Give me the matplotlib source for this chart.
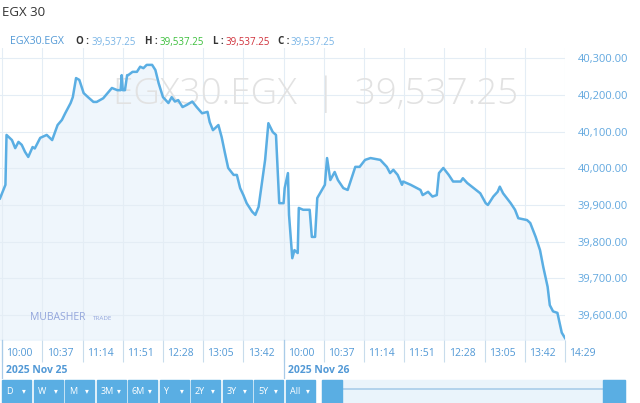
import matplotlib
matplotlib.use('Agg')
import matplotlib.pyplot as plt
from matplotlib.patches import Rectangle

plt.rcParams['font.family'] = ['Open Sans', 'DejaVu Sans']

# ordinal trading minutes: Nov 25 session starts at 0, Nov 26 session at 259
minutes = [-2, 3, 4, 9, 12, 15, 18, 21, 24, 28, 30, 35, 41, 46, 51, 55, 58, 63, 65, 68,
           71, 75, 79, 84, 87, 90, 93, 97, 101, 106, 109, 110, 111, 113, 115, 116, 120, 124, 127, 130,
           133, 138, 141, 144, 148, 153, 156, 159, 162, 166, 170, 175, 179, 184, 189, 191, 194, 199, 202, 205,
           208, 213, 216, 219, 222, 225, 230, 233, 236, 239, 242, 245, 249, 252, 255, 259, 260, 263, 264, 267,
           269, 272, 273, 277, 283, 285, 288, 290, 297, 299, 302, 306, 309, 314, 318, 320, 325, 329, 334, 339,
           348, 354, 357, 360, 364, 368, 369, 376, 385, 387, 392, 396, 400, 402, 406, 411, 415, 422, 424, 428,
           434, 440, 445, 447, 452, 456, 458, 461, 468, 472, 475, 483, 486, 491, 495, 498, 502, 504, 507, 511,
           513, 515, 518]
close = [39918, 39955, 40091, 40077, 40055, 40072, 40064, 40045, 40031, 40058, 40054, 40083, 40091, 40077, 40118, 40132, 40150, 40178, 40194, 40246,
         40241, 40205, 40194, 40181, 40181, 40186, 40191, 40205, 40219, 40213, 40213, 40254, 40213, 40213, 40254, 40254, 40263, 40263, 40277, 40273,
         40282, 40282, 40268, 40232, 40194, 40178, 40194, 40182, 40186, 40167, 40173, 40182, 40167, 40150, 40154, 40126, 40104, 40118, 40085, 40042,
         40001, 39982, 39982, 39946, 39927, 39905, 39882, 39873, 39895, 39960, 40023, 40123, 40099, 40091, 39905, 39905, 39946, 39987, 39873, 39755,
         39777, 39769, 39892, 39887, 39887, 39813, 39813, 39919, 39955, 40028, 39968, 39990, 39968, 39946, 39941, 39959, 40004, 40004, 40023, 40028,
         40023, 40004, 39987, 39996, 39982, 39955, 39964, 39955, 39941, 39927, 39936, 39923, 39927, 39987, 40001, 39982, 39964, 39964, 39973, 39960,
         39946, 39932, 39905, 39900, 39923, 39936, 39950, 39932, 39905, 39887, 39864, 39859, 39851, 39813, 39777, 39731, 39677, 39627, 39610, 39606,
         39579, 39552, 39537.25]

tick_pos = [0, 37, 74, 111, 148, 185, 222, 259, 296, 333, 370, 407, 444, 481, 518]
tick_lbl = ['10:00', '10:37', '11:14', '11:51', '12:28', '13:05', '13:42',
            '10:00', '10:37', '11:14', '11:51', '12:28', '13:05', '13:42', '14:29']
day_pos = [0, 259]
day_lbl = ['2025 Nov 25', '2025 Nov 26']
y_ticks = [39600, 39700, 39800, 39900, 40000, 40100, 40200, 40300]
symbol = 'EGX30.EGX'
last = '39,537.25'
ranges = ['D', 'W', 'M', '3M', '6M', 'Y', '2Y', '3Y', '5Y', 'All']

BLUE = '#5aaee3'
TXT = '#5299d6'
W, H = 640, 403

fig = plt.figure(figsize=(6.4, 4.03), dpi=100)
ax = fig.add_axes([0, 1 - 340 / H, 565 / W, 292 / H])
ymin, ymax = 39532, 40328
ax.set_xlim(-2, 518)
ax.set_ylim(ymin, ymax)

ax.fill_between(minutes, close, ymin, color='#eff6fc', zorder=1)
ax.plot(minutes, close, color=BLUE, lw=1.8, zorder=3, solid_joinstyle='round')

ax.text(0.558, 0.84, f'{symbol}  |  {last}', transform=ax.transAxes, ha='center', va='center',
        fontsize=26.5, color='#e2e2e2', fontweight='light', zorder=2)

for s in ax.spines.values():
    s.set_visible(False)
ax.set_xticks(tick_pos)
ax.set_xticklabels([])
ax.tick_params(axis='x', length=16, color='#c8dcec', width=0.8)
ax.set_yticks(y_ticks)
ax.yaxis.tick_right()
ax.set_yticklabels([f'{v:,.2f}' for v in y_ticks], fontsize=8, color='#62a8df')
ax.tick_params(axis='y', length=0, pad=9)
ax.grid(color='#e4edf5', lw=0.8, zorder=0)
ax.axhline(ymin, color='#c8dcec', lw=0.8)

for p, l in zip(tick_pos, tick_lbl):
    ax.annotate(l, xy=(p, 0), xycoords=('data', 'axes fraction'), xytext=(3, -9.5),
                textcoords='offset points', ha='left', va='center', fontsize=7.5, color=TXT)
for p, l in zip(day_pos, day_lbl):
    ax.axvline(p, ymin=-0.13, ymax=0, color='#a9cbe8', lw=0.9, clip_on=False)
    ax.annotate(l, xy=(p, 0), xycoords=('data', 'axes fraction'), xytext=(3, -22),
                textcoords='offset points', ha='left', va='center', fontsize=7.5,
                color=TXT, fontweight='bold')

# header
fig.text(2 / W, 1 - 13 / H, 'EGX 30', fontsize=9.5, color='#333333', va='center')
parts = [(10, symbol, TXT, 'normal'), (76, 'O :', '#333333', 'bold'), (92, last, '#7ab5e6', 'normal'),
         (145, 'H :', '#333333', 'bold'), (160, last, '#3cbf3c', 'normal'),
         (213, 'L :', '#333333', 'bold'), (226, last, '#d0303a', 'normal'),
         (278, 'C :', '#333333', 'bold'), (291, last, '#7ab5e6', 'normal')]
for x, t, c, w in parts:
    fs = 7.6 if t == symbol else 7
    fig.text(x / W, 1 - 42 / H, t, fontsize=fs, color=c, fontweight=w, va='center')

# logo
fig.text(30 / W, 1 - 318 / H, 'MUBASHER', fontsize=7.5, color='#93a6dc', va='center')
fig.text(93 / W, 1 - 318 / H, 'TRADE', fontsize=4.5, color='#93a6dc', va='center')

# range selector and navigator
for i, r in enumerate(ranges):
    x0 = 2 + i * 31.5
    fig.patches.append(Rectangle((x0 / W, 0), 29 / W, 23 / H, transform=fig.transFigure,
                                 color=BLUE, zorder=1))
    fig.text((x0 + 4) / W, 11 / H, r, fontsize=6.5, color='white', va='center')
    fig.text((x0 + 20) / W, 11 / H, '▾', fontsize=5.5, color='white', va='center')

fig.patches.append(Rectangle((322 / W, 0), 303 / W, 23 / H, transform=fig.transFigure,
                             color='#eaf4fb', zorder=1))
for x0, w in [(322, 20), (603, 22)]:
    fig.patches.append(Rectangle((x0 / W, 0), w / W, 23 / H, transform=fig.transFigure,
                                 color=BLUE, zorder=2))
fig.lines.append(plt.Line2D([342 / W, 603 / W], [1 - 389 / H] * 2, transform=fig.transFigure,
                            color='#a8cdea', lw=1.2))

fig.savefig('out.png', dpi=100)
